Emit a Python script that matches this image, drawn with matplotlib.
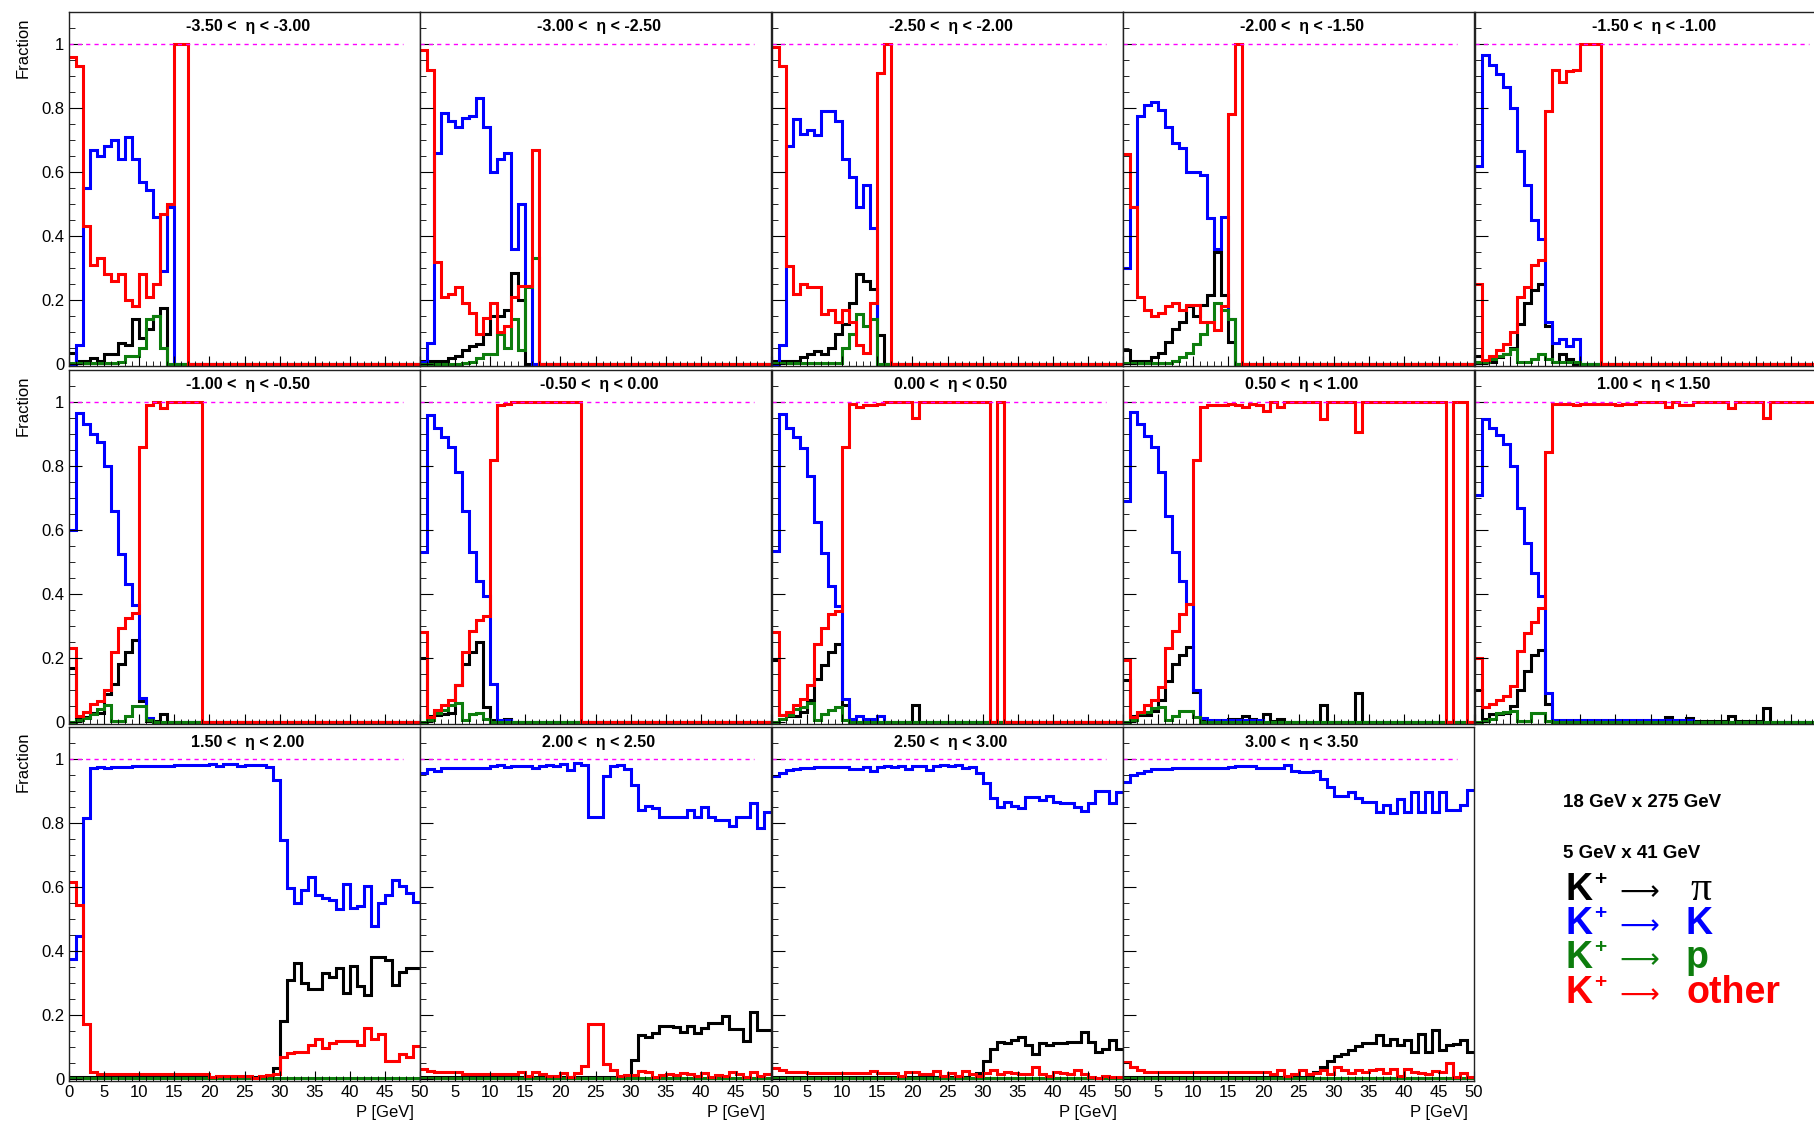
import numpy as np
import matplotlib
matplotlib.use("Agg")
import matplotlib.pyplot as plt
from matplotlib.ticker import MultipleLocator

plt.rcParams['font.family'] = ['Liberation Sans', 'DejaVu Sans']

W, H = 1814, 1127
NB = 50
edges = np.arange(NB + 1)  # 1 GeV momentum bins, 0-50 GeV

eta_edges = [-3.5, -3.0, -2.5, -2.0, -1.5, -1.0, -0.5, 0.0, 0.5, 1.0, 1.5, 2.0, 2.5, 3.0, 3.5]


def z(vals):
    # remaining bins are empty
    return vals + [0.0] * (NB - len(vals))


green_floor = [
    0.003, 0.003, 0.003, 0.003, 0.003, 0.003, 0.003, 0.003, 0.003, 0.003,
    0.003, 0.003, 0.003, 0.003, 0.003, 0.003, 0.003, 0.003, 0.003, 0.003,
    0.003, 0.003, 0.003, 0.003, 0.003, 0.003, 0.003, 0.003, 0.003, 0.003,
    0.003, 0.003, 0.003, 0.003, 0.003, 0.003, 0.003, 0.003, 0.003, 0.003,
    0.003, 0.003, 0.003, 0.003, 0.003, 0.003, 0.003, 0.003, 0.003, 0.003,
]

# K+ -> pi
frac_pi = [
    z([0.035, 0.01, 0.01, 0.02, 0.01, 0.03, 0.03, 0.065, 0.06, 0.14, 0.08, 0.11, 0.15, 0.175]),
    z([0.01, 0.01, 0.01, 0.01, 0.02, 0.025, 0.045, 0.055, 0.063, 0.095, 0.15, 0.15, 0.17, 0.285, 0.20]),
    z([0.01, 0.01, 0.01, 0.01, 0.023, 0.03, 0.04, 0.03, 0.05, 0.095, 0.125, 0.19, 0.28, 0.26, 0.235, 0.09]),
    z([0.045, 0.01, 0.01, 0.01, 0.023, 0.035, 0.07, 0.11, 0.13, 0.18, 0.15, 0.185, 0.215, 0.35, 0.215, 0.07]),
    z([0.025, 0.01, 0.005, 0.023, 0.03, 0.05, 0.125, 0.19, 0.23, 0.25, 0.12, 0.005, 0.03, 0.015]),
    z([0.17, 0.015, 0.015, 0.028, 0.028, 0.088, 0.12, 0.18, 0.22, 0.255, 0.065, 0.003, 0.003, 0.025]),
    z([0.20, 0.018, 0.023, 0.025, 0.028, 0.115, 0.18, 0.22, 0.25, 0.047, 0.005, 0.005, 0.01]),
    z([0.195, 0.023, 0.018, 0.018, 0.033, 0.07, 0.135, 0.177, 0.218, 0.245,
       0.054, 0, 0, 0, 0, 0, 0, 0, 0, 0,
       0.052]),
    z([0.13, 0.018, 0.023, 0.023, 0.036, 0.068, 0.127, 0.18, 0.21, 0.235,
       0.094, 0.007, 0.003, 0.003, 0.003, 0.01, 0.01, 0.018, 0.01, 0.003,
       0.026, 0.003, 0.01, 0, 0, 0, 0, 0, 0.054, 0,
       0, 0, 0, 0.09]),
    z([0.10, 0.01, 0.025, 0.025, 0.028, 0.05, 0.10, 0.16, 0.21, 0.225,
       0.056, 0.003, 0.003, 0.003, 0.003, 0.003, 0.003, 0.003, 0.003, 0.003,
       0.003, 0.003, 0.003, 0.003, 0.003, 0.003, 0.003, 0.016, 0.003, 0.003,
       0.012, 0.003, 0.003, 0.003, 0.003, 0.003, 0.02, 0.003, 0.003, 0.003,
       0.003, 0.044]),
    [0.005, 0.005, 0.005, 0.005, 0.005, 0.005, 0.005, 0.005, 0.005, 0.005,
     0.005, 0.005, 0.005, 0.005, 0.005, 0.005, 0.005, 0.005, 0.005, 0.005,
     0.005, 0.005, 0.005, 0.005, 0.005, 0.005, 0.005, 0.005, 0.005, 0.034,
     0.18, 0.308, 0.362, 0.30, 0.28, 0.28, 0.33, 0.32, 0.347, 0.27,
     0.354, 0.29, 0.264, 0.38, 0.38, 0.373, 0.295, 0.333, 0.347, 0.347],
    [0.005, 0.005, 0.005, 0.005, 0.005, 0.005, 0.005, 0.005, 0.005, 0.005,
     0.005, 0.005, 0.005, 0.005, 0.005, 0.005, 0.005, 0.005, 0.005, 0.005,
     0.005, 0.005, 0.005, 0.005, 0.005, 0.005, 0.005, 0.005, 0.005, 0.005,
     0.06, 0.139, 0.131, 0.144, 0.167, 0.167, 0.163, 0.146, 0.167, 0.144,
     0.16, 0.175, 0.175, 0.198, 0.156, 0.156, 0.118, 0.211, 0.152, 0.152],
    [0.005, 0.005, 0.005, 0.005, 0.005, 0.005, 0.005, 0.005, 0.005, 0.005,
     0.005, 0.005, 0.005, 0.005, 0.005, 0.005, 0.005, 0.005, 0.005, 0.005,
     0.005, 0.005, 0.005, 0.005, 0.005, 0.005, 0.005, 0.005, 0.004, 0.019,
     0.058, 0.095, 0.116, 0.113, 0.121, 0.132, 0.105, 0.079, 0.113, 0.105,
     0.113, 0.113, 0.116, 0.116, 0.147, 0.116, 0.085, 0.095, 0.121, 0.095],
    [0.005, 0.005, 0.005, 0.005, 0.005, 0.005, 0.005, 0.005, 0.005, 0.005,
     0.005, 0.005, 0.005, 0.005, 0.005, 0.005, 0.005, 0.005, 0.005, 0.005,
     0.005, 0.005, 0.005, 0.005, 0.005, 0.005, 0.008, 0.022, 0.038, 0.058,
     0.071, 0.079, 0.092, 0.102, 0.113, 0.113, 0.137, 0.105, 0.126, 0.105,
     0.123, 0.085, 0.142, 0.085, 0.152, 0.09, 0.105, 0.11, 0.123, 0.085],
]

# K+ -> K
frac_k = [
    z([0.0, 0.06, 0.55, 0.67, 0.65, 0.68, 0.70, 0.64, 0.71, 0.64, 0.57, 0.545, 0.46, 0.29, 0.49]),
    z([0.005, 0.065, 0.66, 0.785, 0.76, 0.74, 0.77, 0.775, 0.83, 0.74, 0.60, 0.64, 0.66, 0.36, 0.50, 0.245]),
    z([0.0, 0.06, 0.68, 0.765, 0.72, 0.73, 0.715, 0.79, 0.79, 0.76, 0.64, 0.585, 0.49, 0.56, 0.425]),
    z([0.30, 0.49, 0.775, 0.81, 0.82, 0.795, 0.74, 0.69, 0.675, 0.60, 0.60, 0.59, 0.455, 0.36, 0.46, 0.14]),
    z([0.62, 0.965, 0.935, 0.905, 0.865, 0.80, 0.665, 0.56, 0.45, 0.39, 0.13, 0.065, 0.078, 0.057, 0.078]),
    z([0.60, 0.967, 0.93, 0.90, 0.875, 0.80, 0.66, 0.525, 0.43, 0.365, 0.075, 0.012]),
    z([0.53, 0.96, 0.92, 0.89, 0.86, 0.78, 0.66, 0.53, 0.44, 0.395, 0.12, 0.005, 0.008]),
    z([0.535, 0.963, 0.92, 0.89, 0.855, 0.77, 0.625, 0.527, 0.426, 0.364,
       0.073, 0.01, 0.018, 0.01, 0.01, 0.018]),
    z([0.69, 0.97, 0.93, 0.895, 0.86, 0.78, 0.645, 0.53, 0.44, 0.368,
       0.10, 0.012, 0.008, 0.008, 0.008, 0.008, 0.008, 0.008, 0.008, 0.008]),
    z([0.71, 0.948, 0.92, 0.896, 0.87, 0.80, 0.67, 0.56, 0.465, 0.395,
       0.09, 0.007, 0.005, 0.005, 0.005, 0.005, 0.005, 0.005, 0.005, 0.005,
       0.005, 0.005, 0.005, 0.005, 0.005, 0.005, 0.005, 0.005, 0.005, 0.005,
       0.005]),
    [0.375, 0.448, 0.815, 0.972, 0.975, 0.972, 0.975, 0.975, 0.975, 0.977,
     0.977, 0.977, 0.977, 0.977, 0.977, 0.98, 0.98, 0.98, 0.98, 0.98,
     0.985, 0.977, 0.985, 0.985, 0.977, 0.982, 0.982, 0.982, 0.975, 0.935,
     0.746, 0.597, 0.55, 0.59, 0.63, 0.576, 0.566, 0.56, 0.53, 0.61,
     0.534, 0.54, 0.602, 0.479, 0.55, 0.576, 0.623, 0.602, 0.58, 0.552],
    [0.955, 0.97, 0.963, 0.972, 0.972, 0.972, 0.972, 0.972, 0.972, 0.972,
     0.977, 0.982, 0.975, 0.977, 0.977, 0.977, 0.972, 0.977, 0.982, 0.977,
     0.985, 0.967, 0.988, 0.982, 0.82, 0.82, 0.946, 0.977, 0.982, 0.97,
     0.92, 0.842, 0.854, 0.846, 0.819, 0.819, 0.819, 0.819, 0.84, 0.819,
     0.85, 0.82, 0.808, 0.808, 0.79, 0.82, 0.82, 0.864, 0.784, 0.833],
    [0.948, 0.956, 0.967, 0.969, 0.972, 0.972, 0.974, 0.974, 0.974, 0.974,
     0.974, 0.969, 0.969, 0.974, 0.961, 0.974, 0.979, 0.974, 0.979, 0.969,
     0.977, 0.977, 0.967, 0.977, 0.982, 0.977, 0.982, 0.972, 0.974, 0.956,
     0.925, 0.878, 0.85, 0.867, 0.854, 0.847, 0.881, 0.881, 0.873, 0.885,
     0.867, 0.862, 0.862, 0.85, 0.839, 0.862, 0.899, 0.899, 0.862, 0.896],
    [0.927, 0.951, 0.956, 0.964, 0.969, 0.969, 0.969, 0.972, 0.972, 0.972,
     0.972, 0.972, 0.972, 0.972, 0.972, 0.974, 0.977, 0.977, 0.977, 0.972,
     0.972, 0.972, 0.972, 0.982, 0.964, 0.958, 0.958, 0.961, 0.937, 0.911,
     0.885, 0.885, 0.896, 0.877, 0.867, 0.867, 0.835, 0.857, 0.83, 0.874,
     0.833, 0.896, 0.833, 0.896, 0.833, 0.896, 0.841, 0.841, 0.857, 0.904],
]

# K+ -> p
frac_p = [
    z([0.003, 0.003, 0.003, 0.003, 0.003, 0.003, 0.003, 0.005, 0.025, 0.025, 0.05, 0.14, 0.15, 0.05]),
    z([0.0, 0.0, 0.0, 0.0, 0.0, 0.0, 0.003, 0.005, 0.02, 0.03, 0.03, 0.095, 0.05, 0.14, 0.045, 0.24, 0.33]),
    z([0.003, 0.003, 0.003, 0.003, 0.003, 0.003, 0.003, 0.003, 0.003, 0.003, 0.05, 0.095, 0.155, 0.12, 0.14]),
    z([0.003, 0.003, 0.003, 0.003, 0.003, 0.003, 0.003, 0.01, 0.023, 0.035, 0.063, 0.095, 0.13, 0.19, 0.17, 0.14]),
    z([0.005, 0.005, 0.015, 0.026, 0.033, 0.047, 0.005, 0.005, 0.015, 0.033, 0.015, 0.005, 0.005, 0.005, 0.005]),
    z([0.0, 0.005, 0.012, 0.025, 0.042, 0.052, 0.004, 0.004, 0.02, 0.049, 0.049, 0.005]),
    z([0.0, 0.005, 0.028, 0.038, 0.052, 0.06, 0.005, 0.025, 0.028, 0.01]),
    z([0.0, 0.01, 0.023, 0.04, 0.048, 0.06, 0.007, 0.025, 0.038, 0.046, 0.005]),
    z([0.0, 0.008, 0.028, 0.033, 0.044, 0.048, 0.008, 0.02, 0.036, 0.036, 0.015]),
    z([0.0, 0.003, 0.01, 0.028, 0.033, 0.035, 0.003, 0.003, 0.028, 0.028, 0.003]),
    green_floor,
    green_floor,
    green_floor,
    green_floor,
]

# K+ -> other
frac_other = [
    z([0.96, 0.93, 0.43, 0.31, 0.33, 0.28, 0.26, 0.28, 0.20, 0.18, 0.28, 0.21, 0.25, 0.47, 0.50, 1.0, 1.0]),
    z([0.98, 0.92, 0.32, 0.21, 0.22, 0.24, 0.19, 0.16, 0.095, 0.145, 0.19, 0.10, 0.12, 0.21, 0.245, 0.245, 0.67]),
    z([0.99, 0.93, 0.305, 0.22, 0.25, 0.24, 0.24, 0.155, 0.17, 0.13, 0.17, 0.13, 0.06, 0.035, 0.19, 0.91, 1.0]),
    z([0.655, 0.49, 0.21, 0.17, 0.15, 0.16, 0.18, 0.19, 0.17, 0.185, 0.185, 0.13, 0.13, 0.105, 0.18, 0.78, 1.0]),
    z([0.25, 0.012, 0.026, 0.044, 0.063, 0.10, 0.21, 0.24, 0.31, 0.325,
       0.79, 0.92, 0.88, 0.915, 0.92, 1.0, 1.0, 1.0]),
    z([0.23, 0.02, 0.033, 0.055, 0.065, 0.10, 0.22, 0.295, 0.325, 0.34,
       0.86, 0.99, 1.0, 0.98, 1.0, 1.0, 1.0, 1.0, 1.0]),
    z([0.28, 0.015, 0.038, 0.054, 0.07, 0.115, 0.22, 0.283, 0.32, 0.33,
       0.82, 0.99, 0.995, 1.0, 1.0, 1.0, 1.0, 1.0, 1.0, 1.0,
       1.0, 1.0, 1.0]),
    z([0.28, 0.023, 0.033, 0.054, 0.073, 0.115, 0.245, 0.295, 0.337, 0.347,
       0.86, 0.995, 0.985, 0.99, 0.99, 0.995, 1.0, 1.0, 1.0, 1.0,
       0.95, 1.0, 1.0, 1.0, 1.0, 1.0, 1.0, 1.0, 1.0, 1.0,
       1.0, 0.0, 1.0]),
    [0.195, 0.015, 0.033, 0.054, 0.07, 0.11, 0.23, 0.285, 0.337, 0.368,
     0.82, 0.985, 0.99, 0.99, 0.99, 0.995, 0.99, 0.985, 0.995, 0.99,
     0.972, 1.0, 0.985, 1.0, 1.0, 1.0, 1.0, 1.0, 0.946, 1.0,
     1.0, 1.0, 1.0, 0.906, 1.0, 1.0, 1.0, 1.0, 1.0, 1.0,
     1.0, 1.0, 1.0, 1.0, 1.0, 1.0, 0.0, 1.0, 1.0, 0.0],
    [0.20, 0.046, 0.056, 0.07, 0.08, 0.112, 0.223, 0.277, 0.314, 0.355,
     0.845, 0.995, 0.995, 0.995, 0.99, 0.995, 0.995, 0.995, 0.995, 0.995,
     0.99, 0.995, 0.995, 1.0, 1.0, 1.0, 1.0, 0.985, 1.0, 0.99,
     0.99, 1.0, 1.0, 1.0, 1.0, 1.0, 0.98, 1.0, 1.0, 1.0,
     1.0, 0.95, 1.0, 1.0, 1.0, 1.0, 1.0, 1.0, 1.0, 1.0],
    [0.615, 0.545, 0.173, 0.021, 0.017, 0.017, 0.017, 0.017, 0.017, 0.017,
     0.017, 0.017, 0.017, 0.017, 0.017, 0.017, 0.017, 0.017, 0.017, 0.017,
     0.008, 0.01, 0.01, 0.01, 0.01, 0.01, 0.003, 0.01, 0.013, 0.017,
     0.069, 0.083, 0.086, 0.086, 0.107, 0.125, 0.097, 0.112, 0.118, 0.12,
     0.12, 0.107, 0.16, 0.125, 0.142, 0.058, 0.055, 0.079, 0.069, 0.102],
    [0.031, 0.024, 0.021, 0.021, 0.021, 0.021, 0.017, 0.017, 0.017, 0.017,
     0.017, 0.017, 0.017, 0.017, 0.021, 0.011, 0.021, 0.017, 0.011, 0.011,
     0.019, 0.006, 0.019, 0.042, 0.173, 0.173, 0.048, 0.029, 0.01, 0.013,
     0.013, 0.024, 0.021, 0.008, 0.013, 0.017, 0.013, 0.019, 0.017, 0.01,
     0.019, 0.008, 0.013, 0.01, 0.021, 0.017, 0.006, 0.021, 0.01, 0.017],
    [0.035, 0.027, 0.022, 0.022, 0.022, 0.019, 0.019, 0.019, 0.019, 0.019,
     0.019, 0.019, 0.019, 0.019, 0.025, 0.019, 0.019, 0.019, 0.011, 0.022,
     0.022, 0.015, 0.017, 0.025, 0.011, 0.019, 0.011, 0.025, 0.015, 0.011,
     0.019, 0.027, 0.015, 0.022, 0.019, 0.017, 0.015, 0.037, 0.015, 0.011,
     0.022, 0.019, 0.017, 0.029, 0.017, 0.006, 0.004, 0.011, 0.006, 0.008],
    [0.053, 0.038, 0.027, 0.022, 0.022, 0.022, 0.022, 0.022, 0.022, 0.022,
     0.022, 0.022, 0.022, 0.022, 0.022, 0.022, 0.022, 0.022, 0.022, 0.022,
     0.022, 0.017, 0.027, 0.011, 0.015, 0.027, 0.015, 0.019, 0.027, 0.017,
     0.038, 0.029, 0.019, 0.027, 0.022, 0.027, 0.032, 0.019, 0.032, 0.011,
     0.032, 0.022, 0.019, 0.015, 0.025, 0.022, 0.05, 0.008, 0.019, 0.008],
]

series = [frac_pi, frac_k, frac_p, frac_other]
colors = ['black', '#0000ff', '#0d7d0d', '#ff0000']
targets = ['\u03c0', 'K', 'p', 'other']
beams = ['18 GeV x 275 GeV', '5 GeV x 41 GeV']

# panel geometry in pixels
col_left = [69, 420, 772, 1123, 1475]
row_top = [12, 370, 727]
pw, ph = 351, 354

fig = plt.figure(figsize=(W / 100, H / 100), dpi=100)

for i in range(len(eta_edges) - 1):
    r, c = divmod(i, 5)
    ax = fig.add_axes([col_left[c] / W, 1 - (row_top[r] + ph) / H, pw / W, ph / H])
    for vals, col in zip(series, colors):
        ax.stairs(vals[i], edges, baseline=None, color=col, lw=2.2)
    ax.hlines(1.0, 0, 47.6, colors='magenta', linestyles=(0, (3, 3)), lw=1.0)

    ax.set_xlim(0, 50)
    ax.set_ylim(-0.006, 1.1)
    ax.xaxis.set_major_locator(MultipleLocator(5))
    ax.xaxis.set_minor_locator(MultipleLocator(1))
    ax.set_yticks([0, 0.2, 0.4, 0.6, 0.8, 1.0])
    ax.yaxis.set_minor_locator(MultipleLocator(0.05))
    ax.tick_params(which='both', direction='in', top=False, right=False, labelsize=12)
    ax.tick_params(axis='y', which='major', length=9)
    ax.tick_params(axis='y', which='minor', length=4.5)
    ax.tick_params(axis='x', which='major', length=7, pad=3)
    ax.tick_params(axis='x', which='minor', length=3.5)
    for s in ax.spines.values():
        s.set_linewidth(1.0)
        s.set_color('#222222')

    if c == 0:
        ax.set_yticklabels(['0', '0.2', '0.4', '0.6', '0.8', '1'])
    else:
        ax.set_yticklabels([])
    if r == 2:
        ax.set_xticks(np.arange(0, 51, 5))
        xl = [str(v) for v in range(0, 51, 5)]
        if c > 0:
            xl[0] = ''
        ax.set_xticklabels(xl)
        ax.text(1.0 - 6 / pw, -32 / ph, 'P [GeV]', transform=ax.transAxes,
                ha='right', va='center', fontsize=12)
    else:
        ax.set_xticklabels([])

    lo, hi = eta_edges[i], eta_edges[i + 1]
    ax.text(0.51, 1 - 15 / ph, f'{lo:.2f} <  \u03b7 < {hi:.2f}', transform=ax.transAxes,
            ha='center', va='center', fontsize=11.5, fontweight='bold')

for r in range(3):
    fig.text(23 / W, 1 - (row_top[r] + 5) / H, 'Fraction', rotation=90,
             ha='center', va='top', fontsize=12)

# beam energies and channel legend
fig.text(1563 / W, 1 - 807 / H, beams[0], fontsize=13.5, fontweight='bold', va='baseline')
fig.text(1563 / W, 1 - 858 / H, beams[1], fontsize=13.5, fontweight='bold', va='baseline')
baselines = [900, 934, 968, 1003]
for name, col, yb in zip(targets, colors, baselines):
    fy = 1 - yb / H
    fig.text(1565 / W, fy, 'K', color=col, fontsize=27, fontweight='bold', va='baseline')
    fig.text(1594 / W, fy + 15 / H, '+', color=col, fontsize=15, fontweight='bold', va='baseline')
    fig.text(1614 / W, fy + 2 / H, r'$\longrightarrow$', color=col, fontsize=20, va='baseline')
    if name == '\u03c0':
        fig.text(1690 / W, fy, name, color=col, fontsize=30, va='baseline',
                 family='Liberation Serif')
    else:
        fig.text(1686 / W, fy, name, color=col, fontsize=27, fontweight='bold', va='baseline')

fig.savefig('out.png', dpi=100)
